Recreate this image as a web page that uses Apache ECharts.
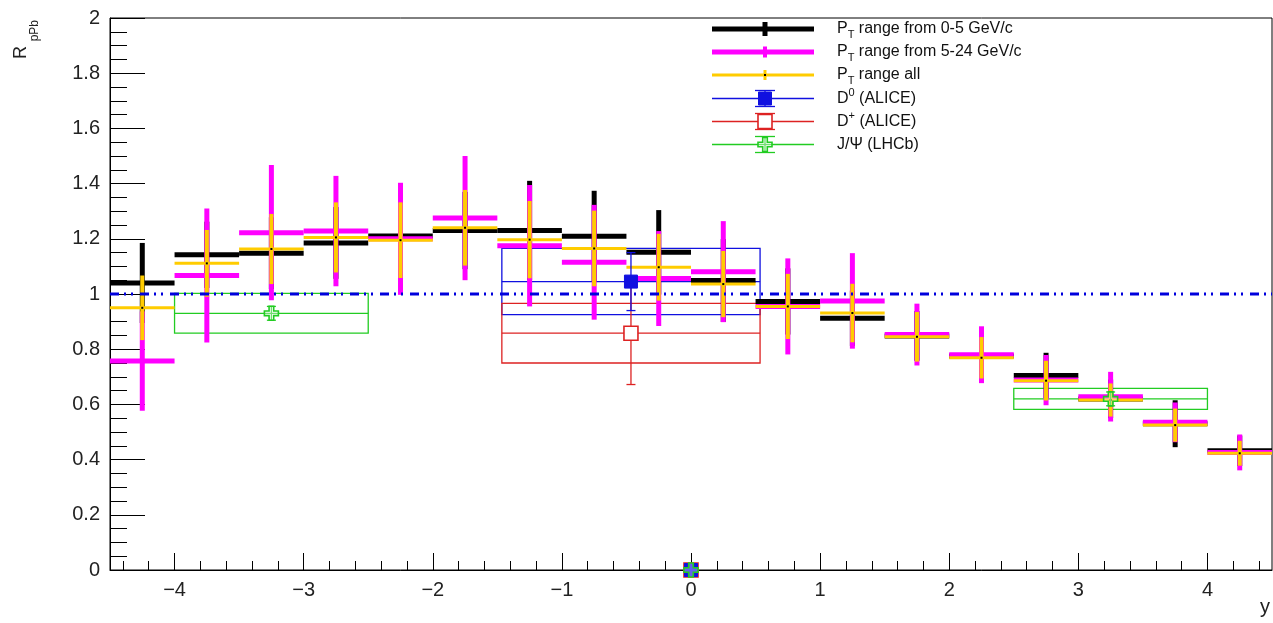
<!DOCTYPE html>
<html>
<head>
<meta charset="utf-8">
<script src="https://cdn.jsdelivr.net/npm/echarts@6/dist/echarts.min.js"></script>
<style>
  html, body { margin: 0; padding: 0; background: #ffffff; }
  #chart { width: 1273px; height: 623px; }
</style>
</head>
<body>
<div id="chart"></div>
<script>
// ---- rapidity bins (width 0.5) ----
const binCenters = [-4.25, -3.75, -3.25, -2.75, -2.25, -1.75, -1.25, -0.75, -0.25,
                     0.25,  0.75,  1.25,  1.75,  2.25,  2.75,  3.25,  3.75,  4.25];
const binHalfWidth = 0.25;

// ---- R_pPb, pT 0-5 GeV/c ----
const ptLowValues = [1.040, 1.142, 1.148, 1.185, 1.210, 1.230, 1.230, 1.209, 1.151,
                     1.049, 0.973, 0.912, 0.848, 0.775, 0.705, 0.620, 0.530, 0.432];
const ptLowErrors = [0.145, 0.120, 0.130, 0.130, 0.140, 0.140, 0.180, 0.165, 0.153,
                     0.150, 0.120, 0.100, 0.090, 0.080, 0.082, 0.070, 0.085, 0.055];

// ---- R_pPb, pT 5-24 GeV/c ----
const ptHighValues = [0.757, 1.067, 1.222, 1.228, 1.200, 1.275, 1.175, 1.115, 1.056,
                      1.081, 0.955, 0.975, 0.853, 0.780, 0.688, 0.628, 0.535, 0.426];
const ptHighErrors = [0.180, 0.243, 0.245, 0.200, 0.203, 0.225, 0.220, 0.208, 0.172,
                      0.183, 0.174, 0.173, 0.112, 0.103, 0.091, 0.090, 0.072, 0.065];

// ---- R_pPb, all pT ----
const ptAllValues = [0.950, 1.111, 1.163, 1.205, 1.195, 1.240, 1.197, 1.165, 1.097,
                     1.036, 0.955, 0.931, 0.845, 0.769, 0.686, 0.616, 0.525, 0.423];
const ptAllErrors = [0.117, 0.121, 0.127, 0.127, 0.137, 0.137, 0.140, 0.137, 0.121,
                     0.120, 0.118, 0.106, 0.090, 0.075, 0.072, 0.060, 0.060, 0.045];

// ---- D0 (ALICE) ----
const d0X    = [-0.465, 0];
const d0Y    = [1.045, 0];
const d0XErr = [1.0, 0];
const d0Stat = [0.105, 0];
const d0Syst = [0.120, 0];

// ---- D+ (ALICE) ----
const dPlusX    = [-0.465, 0];
const dPlusY    = [0.858, 0];
const dPlusXErr = [1.0, 0];
const dPlusStat = [0.186, 0];
const dPlusSyst = [0.108, 0];

// ---- J/psi (LHCb) ----
const jpsiX    = [-3.25, 3.25, 0];
const jpsiY    = [0.930, 0.620, 0];
const jpsiXErr = [0.75, 0.75, 0];
const jpsiStat = [0.025, 0.025, 0];
const jpsiSyst = [0.072, 0.038, 0];

// ---- reference line and axes ----
const unityLevel = 1;
const xRange = [-4.5, 4.5];
const yRange = [0, 2];
const xMajorTicks = [-4, -3, -2, -1, 0, 1, 2, 3, 4];
const xMinorTicks = [];
for (let k = -22; k <= 22; k++) {
  if (k % 5 !== 0) xMinorTicks.push(+(k * 0.2).toFixed(1));
}

const FONT = '"Liberation Sans", Arial, Helvetica, sans-serif';
const C_BLACK = '#000000';
const C_MAGENTA = '#ff00ff';
const C_ORANGE = '#ffcc00';
const C_BLUE = '#1010e0';
const C_RED = '#dd2222';
const C_GREEN = '#22cc22';

function zipRows(cols) {
  return cols[0].map((_, i) => cols.map(c => c[i]));
}

// bin-width horizontal bar plus vertical error bar
function binRender(color, hWidth, vWidth, dot) {
  return function (params, api) {
    const x = api.value(0), y = api.value(1), e = api.value(2);
    const l = api.coord([x - binHalfWidth, y]);
    const r = api.coord([x + binHalfWidth, y]);
    const t = api.coord([x, y + e]);
    const b = api.coord([x, y - e]);
    const children = [
      { type: 'line', shape: { x1: t[0], y1: t[1], x2: b[0], y2: b[1] },
        style: { stroke: color, lineWidth: vWidth } },
      { type: 'line', shape: { x1: l[0], y1: l[1], x2: r[0], y2: r[1] },
        style: { stroke: color, lineWidth: hWidth } }
    ];
    if (dot) {
      const c = api.coord([x, y]);
      children.push({ type: 'rect', shape: { x: c[0] - 1, y: c[1] - 1, width: 2, height: 2 },
        style: { fill: '#000' } });
    }
    return { type: 'group', children };
  };
}

// systematic box with x-range line
function boxRender(color) {
  return function (params, api) {
    const x = api.value(0), y = api.value(1), xe = api.value(2), sys = api.value(4);
    if (!(xe > 0)) return { type: 'group', children: [] };
    const p1 = api.coord([x - xe, y + sys]);
    const p2 = api.coord([x + xe, y - sys]);
    const l = api.coord([x - xe, y]);
    const r = api.coord([x + xe, y]);
    return { type: 'group', children: [
      { type: 'rect', shape: { x: p1[0], y: p1[1], width: p2[0] - p1[0], height: p2[1] - p1[1] },
        style: { fill: 'none', stroke: color, lineWidth: 1.3 } },
      { type: 'line', shape: { x1: l[0], y1: l[1], x2: r[0], y2: r[1] },
        style: { stroke: color, lineWidth: 1.3 } }
    ] };
  };
}

function crossPoints(cx, cy, s, t) {
  return [[cx - t, cy - s], [cx + t, cy - s], [cx + t, cy - t], [cx + s, cy - t],
          [cx + s, cy + t], [cx + t, cy + t], [cx + t, cy + s], [cx - t, cy + s],
          [cx - t, cy + t], [cx - s, cy + t], [cx - s, cy - t], [cx - t, cy - t]];
}

function markerShape(kind, color, cx, cy) {
  if (kind === 'filledSquare') {
    return { type: 'rect', shape: { x: cx - 6.5, y: cy - 6.5, width: 13, height: 13 },
      style: { fill: color, stroke: color, lineWidth: 1 } };
  }
  if (kind === 'openSquare') {
    return { type: 'rect', shape: { x: cx - 7, y: cy - 7, width: 14, height: 14 },
      style: { fill: '#ffffff', stroke: color, lineWidth: 1.6 } };
  }
  return { type: 'polygon', shape: { points: crossPoints(cx, cy, 7, 2.3) },
    style: { fill: 'rgba(255,255,255,0.35)', stroke: color, lineWidth: 1.6 } };
}

// statistical error with caps and marker
function markerRender(color, kind) {
  return function (params, api) {
    const x = api.value(0), y = api.value(1), st = api.value(3);
    const c = api.coord([x, y]);
    const children = [];
    if (st > 0) {
      const t = api.coord([x, y + st]);
      const b = api.coord([x, y - st]);
      children.push(
        { type: 'line', shape: { x1: t[0], y1: t[1], x2: b[0], y2: b[1] }, style: { stroke: color, lineWidth: 1.3 } },
        { type: 'line', shape: { x1: t[0] - 4.5, y1: t[1], x2: t[0] + 4.5, y2: t[1] }, style: { stroke: color, lineWidth: 1.3 } },
        { type: 'line', shape: { x1: b[0] - 4.5, y1: b[1], x2: b[0] + 4.5, y2: b[1] }, style: { stroke: color, lineWidth: 1.3 } }
      );
    }
    children.push(markerShape(kind, color, c[0], c[1]));
    return { type: 'group', children };
  };
}

const d0Rows = zipRows([d0X, d0Y, d0XErr, d0Stat, d0Syst]);
const dPlusRows = zipRows([dPlusX, dPlusY, dPlusXErr, dPlusStat, dPlusSyst]);
const jpsiRows = zipRows([jpsiX, jpsiY, jpsiXErr, jpsiStat, jpsiSyst]);

function customSeries(name, data, renderItem, z) {
  return { type: 'custom', name, data, renderItem, z, silent: true, clip: false,
           xAxisIndex: 0, yAxisIndex: 0, encode: { x: 0, y: 1 } };
}

// ---- legend (ROOT-style box, no border) ----
const legendRows = [29, 52, 75, 98.5, 121.5, 144.5];
const legX1 = 712, legX2 = 814, legMid = 765, legTextX = 837;
const richStyles = {
  n: { fontSize: 16, fontFamily: FONT, fill: '#111', lineHeight: 22, verticalAlign: 'middle' },
  s: { fontSize: 11, fontFamily: FONT, fill: '#111', lineHeight: 10, verticalAlign: 'bottom' },
  u: { fontSize: 11, fontFamily: FONT, fill: '#111', lineHeight: 10, verticalAlign: 'top' }
};
const legendLabels = [
  '{n|P}{s|T}{n| range from 0-5 GeV/c}',
  '{n|P}{s|T}{n| range from 5-24 GeV/c}',
  '{n|P}{s|T}{n| range all}',
  '{n|D}{u|0}{n| (ALICE)}',
  '{n|D}{u|+}{n| (ALICE)}',
  '{n|J/\u03A8 (LHCb)}'
];

function legendGraphics() {
  const g = [];
  const hline = (y, color, w) => ({ type: 'line', shape: { x1: legX1, y1: y, x2: legX2, y2: y }, style: { stroke: color, lineWidth: w } });
  const vbar = (y, color, w, h) => ({ type: 'rect', shape: { x: legMid - w / 2, y: y - h / 2, width: w, height: h }, style: { fill: color } });
  const capped = (y, color) => [
    { type: 'line', shape: { x1: legMid, y1: y - 8, x2: legMid, y2: y + 8 }, style: { stroke: color, lineWidth: 1.3 } },
    { type: 'line', shape: { x1: legMid - 10, y1: y - 8, x2: legMid + 10, y2: y - 8 }, style: { stroke: color, lineWidth: 1.3 } },
    { type: 'line', shape: { x1: legMid - 10, y1: y + 8, x2: legMid + 10, y2: y + 8 }, style: { stroke: color, lineWidth: 1.3 } }
  ];
  let y = legendRows[0];
  g.push(hline(y, C_BLACK, 5), vbar(y, C_BLACK, 5, 14));
  y = legendRows[1];
  g.push(hline(y, C_MAGENTA, 5), vbar(y, C_MAGENTA, 4, 11));
  y = legendRows[2];
  g.push(hline(y, C_ORANGE, 3), vbar(y, C_ORANGE, 3, 10),
         { type: 'rect', shape: { x: legMid - 1, y: y - 1, width: 2, height: 2 }, style: { fill: '#000' } });
  y = legendRows[3];
  g.push(hline(y, C_BLUE, 1.3), ...capped(y, C_BLUE), markerShape('filledSquare', C_BLUE, legMid, y));
  y = legendRows[4];
  g.push(hline(y, C_RED, 1.3), ...capped(y, C_RED), markerShape('openSquare', C_RED, legMid, y));
  y = legendRows[5];
  g.push(hline(y, C_GREEN, 1.3), ...capped(y, C_GREEN), markerShape('cross', C_GREEN, legMid, y));
  legendLabels.forEach((txt, i) => {
    g.push({ type: 'text', x: legTextX, y: legendRows[i],
      style: { text: txt, rich: richStyles, align: 'left', verticalAlign: 'middle', font: '16px ' + FONT } });
  });
  return g;
}

// axis titles
function titleGraphics() {
  return [
    { type: 'text', x: 21, y: 46, rotation: Math.PI / 2,
      style: { text: 'R', font: '18px ' + FONT, fill: '#222', align: 'right', verticalAlign: 'middle' } },
    { type: 'text', x: 35, y: 20, rotation: Math.PI / 2,
      style: { text: 'pPb', font: '12px ' + FONT, fill: '#222', align: 'right', verticalAlign: 'middle' } },
    { type: 'text', x: 1270, y: 607,
      style: { text: 'y', font: '20px ' + FONT, fill: '#222', align: 'right', verticalAlign: 'middle' } }
  ];
}

const chart = echarts.init(document.getElementById('chart'), null, { renderer: 'canvas' });

const option = {
  animation: false,
  backgroundColor: '#ffffff',
  grid: { left: 110, right: 1, top: 18, bottom: 53, show: true, borderColor: '#000', borderWidth: 1, backgroundColor: 'transparent' },
  xAxis: [
    { type: 'value', min: xRange[0], max: xRange[1], position: 'bottom',
      axisLine: { show: true, onZero: false, lineStyle: { color: '#000', width: 1 } },
      axisTick: { show: true, inside: true, length: 17, customValues: xMajorTicks, lineStyle: { color: '#000', width: 1 } },
      axisLabel: { show: true, customValues: xMajorTicks, fontSize: 20, fontFamily: FONT, color: '#222', margin: 10,
        formatter: v => (v < 0 ? '\u2212' + Math.abs(v) : String(v)) },
      splitLine: { show: false } },
    { type: 'value', min: xRange[0], max: xRange[1], position: 'bottom',
      axisLine: { show: false },
      axisTick: { show: true, inside: true, length: 9, customValues: xMinorTicks, lineStyle: { color: '#000', width: 1 } },
      axisLabel: { show: false },
      splitLine: { show: false } }
  ],
  yAxis: [
    { type: 'value', min: yRange[0], max: yRange[1], interval: 0.2,
      axisLine: { show: true, onZero: false, lineStyle: { color: '#000', width: 1 } },
      axisTick: { show: true, inside: true, length: 35, lineStyle: { color: '#000', width: 1 } },
      minorTick: { show: true, splitNumber: 4, length: 17, lineStyle: { color: '#000', width: 1 } },
      axisLabel: { fontSize: 20, fontFamily: FONT, color: '#222', margin: 10 },
      splitLine: { show: false } }
  ],
  graphic: [...legendGraphics(), ...titleGraphics()],
  series: [
    customSeries('J/\u03A8 (LHCb) syst', jpsiRows, boxRender(C_GREEN), 1),
    customSeries('D0 (ALICE) syst', d0Rows, boxRender(C_BLUE), 1),
    customSeries('D+ (ALICE) syst', dPlusRows, boxRender(C_RED), 1),
    customSeries('PT 0-5', zipRows([binCenters, ptLowValues, ptLowErrors]), binRender(C_BLACK, 5, 5, false), 2),
    customSeries('PT 5-24', zipRows([binCenters, ptHighValues, ptHighErrors]), binRender(C_MAGENTA, 5, 5, false), 3),
    customSeries('PT all', zipRows([binCenters, ptAllValues, ptAllErrors]), binRender(C_ORANGE, 3, 4, true), 4),
    { type: 'line', name: 'unity', z: 5, silent: true, symbol: 'none', showSymbol: false,
      data: [[xRange[0], unityLevel], [xRange[1], unityLevel]],
      lineStyle: { color: '#0000dd', width: 3, type: [9, 5, 2, 5, 2, 7] } },
    customSeries('D+ (ALICE)', dPlusRows, markerRender(C_RED, 'openSquare'), 6),
    customSeries('D0 (ALICE)', d0Rows, markerRender(C_BLUE, 'filledSquare'), 7),
    customSeries('J/\u03A8 (LHCb)', jpsiRows, markerRender(C_GREEN, 'cross'), 8)
  ]
};

chart.setOption(option);
</script>
</body>
</html>
